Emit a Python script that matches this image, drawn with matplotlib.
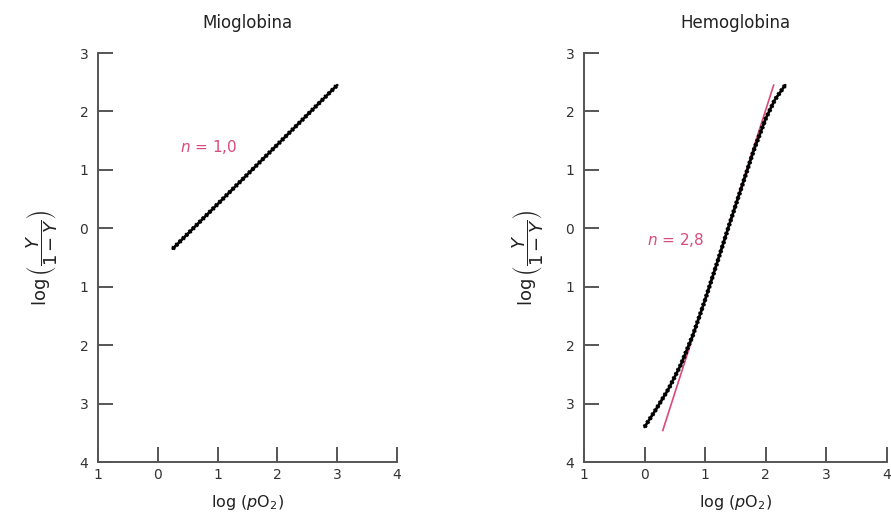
import matplotlib
matplotlib.use("Agg")
import matplotlib.pyplot as plt

# Hill plots: log(Y/(1-Y)) vs log(pO2)
tick_vals_x = [-1, 0, 1, 2, 3, 4]
tick_labels_x = ["1", "0", "1", "2", "3", "4"]
tick_vals_y = [3, 2, 1, 0, -1, -2, -3, -4]
tick_labels_y = ["3", "2", "1", "0", "1", "2", "3", "4"]

mio_x = [0.25, 3.0]
mio_y = [-0.35, 2.45]

hemo_x = [0.0, 0.2, 0.4, 0.6, 0.8, 1.0, 1.2, 1.4, 1.6, 1.8, 2.0, 2.15, 2.32]
hemo_y = [-3.4, -3.08, -2.74, -2.33, -1.82, -1.22, -0.58, 0.07, 0.7, 1.33, 1.88, 2.2, 2.45]

hill_x = [0.30, 2.13]
hill_y = [-3.46, 2.45]

RED = "#d94b7b"
AXIS = "#555555"

plt.rcParams["font.family"] = "DejaVu Sans"
plt.rcParams["mathtext.fontset"] = "dejavusans"

fig = plt.figure(figsize=(8.91, 5.18), dpi=100)
ax1 = fig.add_axes([98 / 891, 1 - 462 / 518, 299 / 891, 409 / 518])
ax2 = fig.add_axes([584 / 891, 1 - 462 / 518, 303 / 891, 409 / 518])

ylabel = r"$\log\left(\dfrac{Y}{1-Y}\right)$"
xlabel = r"log $(\mathit{p}\mathrm{O}_2)$"


def dotted_line(ax, x, y):
    # solid core with a beaded overlay, like the printed dotted curve
    ax.plot(x, y, color="black", linewidth=2.0, solid_capstyle="round")
    ax.plot(x, y, color="black", linewidth=3.2,
            linestyle=(0, (0.5, 0.55)), dash_capstyle="butt")


for ax, title in [(ax1, "Mioglobina"), (ax2, "Hemoglobina")]:
    ax.set_xlim(-1, 4)
    ax.set_ylim(-4, 3)
    ax.spines["top"].set_visible(False)
    ax.spines["right"].set_visible(False)
    for s in ["left", "bottom"]:
        ax.spines[s].set_color(AXIS)
        ax.spines[s].set_linewidth(1.4)
    ax.set_xticks(tick_vals_x)
    ax.set_xticklabels(tick_labels_x)
    ax.set_yticks(tick_vals_y)
    ax.set_yticklabels(tick_labels_y)
    ax.tick_params(direction="in", length=11, width=1.4, color=AXIS,
                   labelsize=10, labelcolor="#333333")
    ax.tick_params(axis="y", pad=7)
    ax.tick_params(axis="x", pad=4)
    ax.set_title(title, fontsize=12, pad=18, color="#222222")
    ax.set_xlabel(xlabel, fontsize=11.5, labelpad=8, color="#222222")
    ax.set_ylabel(ylabel, fontsize=13, labelpad=14, color="#222222")

# Mioglobina
dotted_line(ax1, mio_x, mio_y)
ax1.text(0.37, 1.3, r"$n$ = 1,0", color=RED, fontsize=11)

# Hemoglobina
ax2.plot(hill_x, hill_y, color=RED, linewidth=1.2)
dotted_line(ax2, hemo_x, hemo_y)
ax2.text(0.04, -0.28, r"$n$ = 2,8", color=RED, fontsize=11)

fig.savefig("out.png", dpi=100)
